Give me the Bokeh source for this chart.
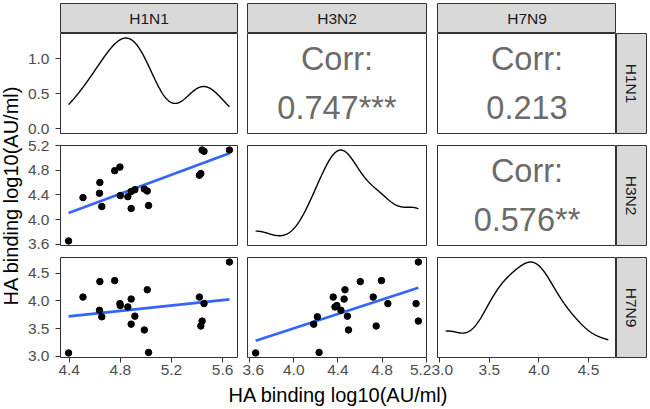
import numpy as np
from bokeh.plotting import figure
from bokeh.models import (Range1d, FactorRange, FixedTicker, PrintfTickFormatter,
                          LinearAxis, GridBox)
from bokeh.embed import file_html
from bokeh.resources import INLINE
from bokeh.core.properties import value

# ---------------- data ----------------
variables = ["H1N1", "H3N2", "H7N9"]
h1n1 = [4.395, 4.508, 4.640, 4.637, 4.655, 4.756, 4.797, 4.800, 4.859, 4.885,
        4.885, 4.914, 4.988, 5.011, 5.021, 5.419, 5.430, 5.440, 5.455, 5.654]
h3n2 = [3.653, 4.357, 4.603, 4.427, 4.213, 4.795, 4.853, 4.390, 4.373, 4.456,
        4.180, 4.486, 4.496, 4.464, 4.229, 4.720, 4.747, 5.130, 5.109, 5.130]
h7n9 = [3.060, 4.068, 4.347, 3.830, 3.712, 4.365, 3.950, 3.915, 3.890, 4.032,
        3.580, 3.724, 3.475, 4.200, 3.070, 4.068, 3.546, 3.635, 3.950, 4.700]
corr_pairs = [("H1N1", "H3N2"), ("H1N1", "H7N9"), ("H3N2", "H7N9")]
corr_values = ["0.747***", "0.213", "0.576**"]
corr_heading = "Corr:"
ticks_h1n1 = [4.4, 4.8, 5.2, 5.6]
ticks_h3n2 = [3.6, 4.0, 4.4, 4.8, 5.2]
ticks_h7n9 = [3.0, 3.5, 4.0, 4.5]
ticks_density = [0.0, 0.5, 1.0]
axis_title = "HA binding log10(AU/ml)"

data = {"H1N1": np.array(h1n1), "H3N2": np.array(h3n2), "H7N9": np.array(h7n9)}
var_ticks = {"H1N1": ticks_h1n1, "H3N2": ticks_h3n2, "H7N9": ticks_h7n9}
corr_map = {pair: v for pair, v in zip(corr_pairs, corr_values)}

FONT = "Liberation Sans"
TICK_SIZE = "15.5px"
BORDER = "#333333"


def expanded(a, lo=None):
    mn = a.min() if lo is None else lo
    mx = a.max()
    pad = (mx - mn) * 0.05
    return Range1d(mn - pad, mx + pad)


def nrd0(x):
    sd = x.std(ddof=1)
    q75, q25 = np.percentile(x, [75, 25])
    lo = min(sd, (q75 - q25) / 1.34)
    return 0.9 * lo * len(x) ** -0.2


def kde(x):
    bw = nrd0(x)
    grid = np.linspace(x.min(), x.max(), 512)
    z = (grid[:, None] - x[None, :]) / bw
    dens = np.exp(-0.5 * z ** 2).sum(axis=1) / (len(x) * bw * np.sqrt(2 * np.pi))
    return grid, dens


x_ranges = {v: expanded(data[v]) for v in variables}
y_ranges = {v: expanded(data[v]) for v in variables}
densities = {v: kde(data[v]) for v in variables}
dens_ranges = {v: expanded(densities[v][1], lo=0.0) for v in variables}

# grid geometry: (width, min_border_left, min_border_right) per column,
# (height, min_border_top, min_border_bottom) per row
cols = [(218, 34, 5), (189, 5, 5), (185, 6, 0)]
strip_col = (34, 0, 4)
rows = [(104, 0, 4), (116, 8, 8), (130, 4, 26)]
strip_row = (33, 3, 0)


def base(xr, yr, colspec, rowspec, bg="white", outline=True):
    w, l, r = colspec
    h, t, b = rowspec
    p = figure(width=w, height=h, x_range=xr, y_range=yr,
               x_axis_type=None, y_axis_type=None,
               output_backend="svg", toolbar_location=None,
               min_border_left=l, min_border_right=r,
               min_border_top=t, min_border_bottom=b)
    p.background_fill_color = bg
    p.border_fill_color = "white"
    p.outline_line_color = BORDER if outline else None
    p.outline_line_width = 1
    return p


def style_axis(ax, ticks, standoff):
    ax.ticker = FixedTicker(ticks=ticks)
    ax.formatter = PrintfTickFormatter(format="%.1f")
    ax.axis_line_color = None
    ax.major_tick_line_color = BORDER
    ax.major_tick_line_width = 1
    ax.major_tick_in = 0
    ax.major_tick_out = 5
    ax.minor_tick_line_color = None
    ax.major_label_text_font = FONT
    ax.major_label_text_font_size = TICK_SIZE
    ax.major_label_text_color = "#4D4D4D"
    ax.major_label_standoff = standoff
    return ax


children = []

# top strips
for j, v in enumerate(variables):
    p = base(FactorRange(factors=[v]), FactorRange(factors=[v]), cols[j], strip_row, bg="#D9D9D9")
    p.text(x=[v], y=[v], text=[v], text_font=value(FONT), text_font_size=TICK_SIZE,
           text_color="#1A1A1A", text_align="center", text_baseline="middle")
    children.append((p, 0, j + 1))

# right strips
for i, v in enumerate(variables):
    p = base(FactorRange(factors=[v]), FactorRange(factors=[v]), strip_col, rows[i], bg="#D9D9D9")
    p.text(x=[v], y=[v], text=[v], text_font=value(FONT), text_font_size=TICK_SIZE,
           text_color="#1A1A1A", text_align="center", text_baseline="middle",
           angle=-np.pi / 2)
    children.append((p, i + 1, 4))

# panels
for i, vy in enumerate(variables):
    for j, vx in enumerate(variables):
        xr = x_ranges[vx]
        if i == j:
            yr = dens_ranges[vx]
            p = base(xr, yr, cols[j], rows[i])
            gx, gy = densities[vx]
            p.line(gx, gy, line_color="black", line_width=1.4)
        elif i < j:
            yr = y_ranges[vy]
            p = base(xr, yr, cols[j], rows[i])
            cx = (xr.start + xr.end) / 2
            cy = (yr.start + yr.end) / 2
            p.text(x=[cx], y=[cy], text=[corr_heading + "\n" + corr_map[(vy, vx)]],
                   text_font=value(FONT), text_font_size="32.5px", text_color="#6B6B6B",
                   text_align="center", text_baseline="middle", text_line_height=1.38)
        else:
            yr = y_ranges[vy]
            p = base(xr, yr, cols[j], rows[i])
            xs, ys = data[vx], data[vy]
            slope, intercept = np.polyfit(xs, ys, 1)
            lx = np.array([xs.min(), xs.max()])
            p.line(lx, slope * lx + intercept, line_color="#3366FF", line_width=2.7)
            p.scatter(xs, ys, size=6.5, fill_color="black", line_color="black")
        if j == 0:
            ticks = ticks_density if i == 0 else var_ticks[vy]
            p.add_layout(style_axis(LinearAxis(), ticks, 6), "left")
        if i == len(variables) - 1:
            p.add_layout(style_axis(LinearAxis(), var_ticks[vx], 2), "below")
        children.append((p, i + 1, j + 1))

# y axis title (rotated text glyph in a narrow figure spanning the three panel rows)
yt = figure(width=24, height=350, x_range=Range1d(0, 1), y_range=Range1d(0, 1),
            x_axis_type=None, y_axis_type=None, output_backend="svg", toolbar_location=None,
            min_border_left=0, min_border_right=0, min_border_top=0, min_border_bottom=26)
yt.outline_line_color = None
yt.text(x=[0.43], y=[0.5], text=[axis_title], angle=np.pi / 2,
        text_align="center", text_baseline="middle",
        text_font=value(FONT), text_font_size="20px", text_color="black")
children.append((yt, 1, 0, 3, 1))

# x axis title
xt = figure(width=592, height=26, x_range=Range1d(0, 1), y_range=Range1d(0, 1),
            x_axis_type=None, y_axis_type=None, output_backend="svg", toolbar_location=None,
            min_border_left=34, min_border_right=0, min_border_top=0, min_border_bottom=0)
xt.outline_line_color = None
xt.text(x=[0.5], y=[0.55], text=[axis_title],
        text_align="center", text_baseline="middle",
        text_font=value(FONT), text_font_size="20px", text_color="black")
children.append((xt, 4, 1, 1, 3))

layout = GridBox(children=children, spacing=0)

with open("out.html", "w") as f:
    f.write(file_html(layout, INLINE))
